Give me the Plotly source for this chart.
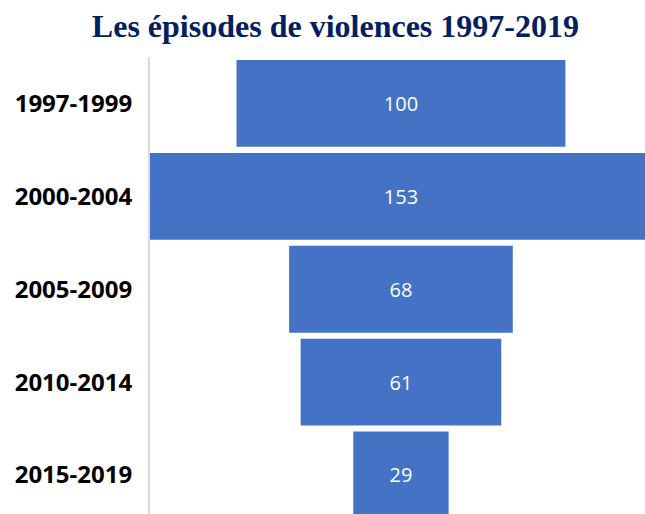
import plotly.graph_objects as go

categories = ["1997-1999", "2000-2004", "2005-2009", "2010-2014", "2015-2019"]
values = [100, 153, 68, 61, 29]

fig = go.Figure(go.Funnel(
    y=categories,
    x=values,
    textinfo="value",
    textposition="inside",
    textfont=dict(family="Open Sans", size=20, color="white"),
    insidetextanchor="middle",
    marker=dict(color="#4472C4"),
    connector=dict(visible=False),
    width=0.935,
))

fig.update_layout(
    width=645, height=514,
    margin=dict(l=150, r=0, t=57, b=0),
    paper_bgcolor="white", plot_bgcolor="white",
    title=dict(text="<b>Les épisodes de violences 1997-2019</b>",
               font=dict(family="Liberation Serif", size=32, color="#002060"),
               x=0.52, xanchor="center", y=0.95, yanchor="middle"),
    showlegend=False,
    xaxis=dict(visible=False, range=[-76.3, 74.2]),
    yaxis=dict(type="category", range=[4.42, -0.5], showline=True, linecolor="#D9D9D9",
               linewidth=2, showgrid=False, ticks="", ticklabelstandoff=11,
               tickfont=dict(family="Open Sans", size=24, color="black", weight="bold")),
)

fig.write_html("out.html", config={"displayModeBar": False},
               post_script="document.body.style.margin='0';document.body.style.overflow='hidden';")
